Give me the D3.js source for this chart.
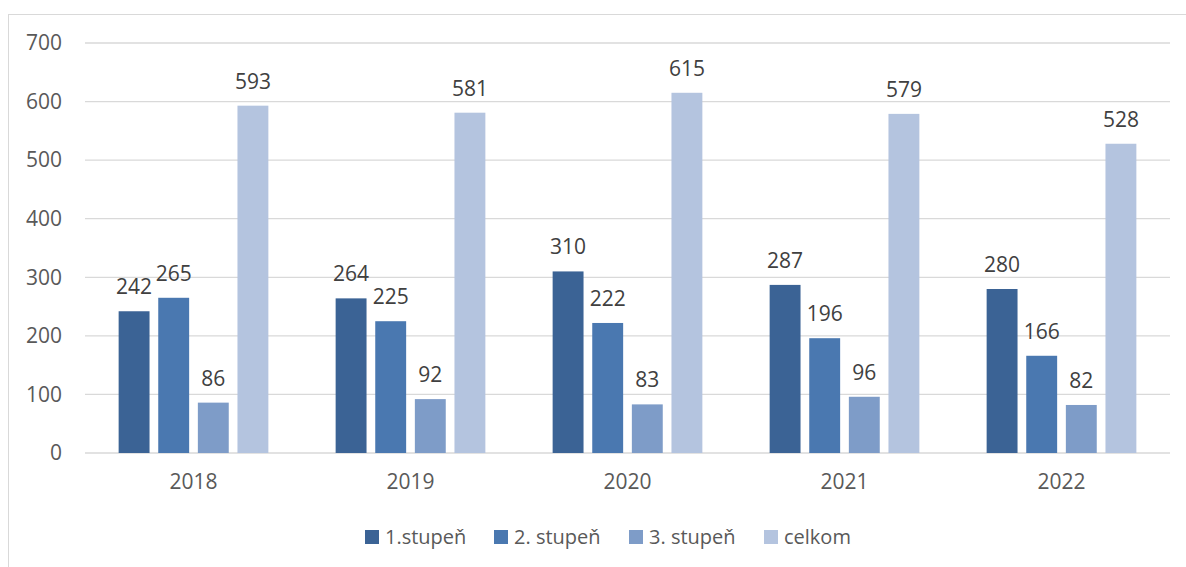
<!DOCTYPE html>
<html>
<head>
<meta charset="utf-8">
<script src="https://cdn.jsdelivr.net/npm/d3@7"></script>
<style>
  body { margin: 0; background: #fff; }
  svg { font-family: "Open Sans", Lato, sans-serif; }
</style>
</head>
<body>
<svg id="chart" width="1186" height="567"></svg>
<script>
// data
var years = ["2018", "2019", "2020", "2021", "2022"];
var seriesNames = ["1.stupeň", "2. stupeň", "3. stupeň", "celkom"];
var stupen1 = [242, 264, 310, 287, 280];
var stupen2 = [265, 225, 222, 196, 166];
var stupen3 = [86, 92, 83, 96, 82];
var celkom = [593, 581, 615, 579, 528];
var yTicks = [0, 100, 200, 300, 400, 500, 600, 700];
var colors = ["#3b6395", "#4a78b0", "#7e9cc8", "#b4c4df"];

var allSeries = [stupen1, stupen2, stupen3, celkom];
var font = "'Open Sans', Lato, sans-serif";
var fs = 21;

var svg = d3.select("#chart");

// outer frame of the chart area
svg.append("rect")
  .attr("x", 8.5).attr("y", 14.5)
  .attr("width", 1200).attr("height", 600)
  .attr("fill", "none").attr("stroke", "#d9d9d9");

var margin = { top: 43, left: 85, right: 16, bottom: 114 },
  width = 1186 - margin.left - margin.right,
  height = 567 - margin.top - margin.bottom;

var g = svg.append("g")
  .attr("transform", "translate(" + margin.left + "," + margin.top + ")");

var x0 = d3.scaleBand().domain(years).range([0, width]).paddingInner(0.31).paddingOuter(0.155);
var x1 = d3.scaleBand().domain(seriesNames).range([0, x0.bandwidth()]).paddingInner(0.22);
var y = d3.scaleLinear().domain([0, 700]).range([height, 0]);

// gridlines
g.selectAll(".grid").data(yTicks).enter().append("line")
  .attr("x1", 0).attr("x2", width)
  .attr("y1", function (d) { return y(d); })
  .attr("y2", function (d) { return y(d); })
  .attr("stroke", "#d9d9d9").attr("stroke-width", 1.3);

// y axis labels
var yAxis = g.append("g").call(d3.axisLeft(y).tickValues(yTicks).tickSize(0).tickPadding(23));
yAxis.select(".domain").remove();
yAxis.selectAll("text").attr("font-size", fs).attr("fill", "#595959").attr("font-family", font);

// x axis labels
var xAxis = g.append("g").attr("transform", "translate(0," + height + ")")
  .call(d3.axisBottom(d3.scaleBand().domain(years).range([0, width])).tickSize(0).tickPadding(21));
xAxis.select(".domain").remove();
xAxis.selectAll("text").attr("font-size", fs).attr("fill", "#595959").attr("font-family", font);

// bars
var rows = [];
years.forEach(function (yr, i) {
  seriesNames.forEach(function (s, j) {
    rows.push({ year: yr, series: s, value: allSeries[j][i], color: colors[j] });
  });
});

var groups = g.selectAll(".bar").data(rows).enter().append("g");

groups.append("rect")
  .attr("x", function (d) { return x0(d.year) + x1(d.series); })
  .attr("y", function (d) { return y(d.value); })
  .attr("width", x1.bandwidth())
  .attr("height", function (d) { return height - y(d.value); })
  .attr("fill", function (d) { return d.color; });

groups.append("text")
  .attr("x", function (d) { return x0(d.year) + x1(d.series) + x1.bandwidth() / 2; })
  .attr("y", function (d) { return y(d.value) - 17; })
  .attr("text-anchor", "middle")
  .attr("font-size", fs)
  .attr("fill", "#404040")
  .text(function (d) { return d.value; });

// legend
var legendX = [365, 494, 629, 764];
var legend = svg.selectAll(".legend").data(seriesNames).enter().append("g")
  .attr("transform", function (d, i) { return "translate(" + legendX[i] + ",530)"; });
legend.append("rect").attr("width", 14).attr("height", 14)
  .attr("fill", function (d, i) { return colors[i]; });
legend.append("text").attr("x", 20).attr("y", 14)
  .attr("font-size", 20).attr("fill", "#595959")
  .text(function (d) { return d; });
</script>
</body>
</html>
